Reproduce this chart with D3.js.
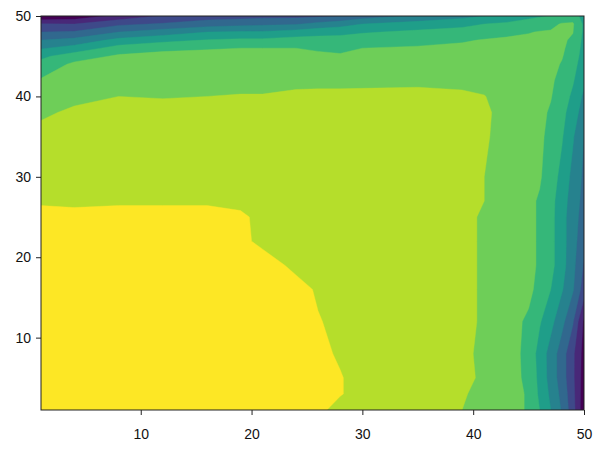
<!DOCTYPE html>
<html><head><meta charset="utf-8">
<script src="https://cdn.jsdelivr.net/npm/d3@7"></script>
<style>html,body{margin:0;padding:0;background:#fff;} svg{display:block;}</style>
</head><body>
<svg id="chart" width="600" height="450"></svg>
<script>
// Grid node positions (data coordinates) along x and y
const xNodes = [1, 4, 8, 12, 16, 19, 21, 24, 26, 28, 30, 35, 39, 41, 43, 45, 46, 47, 48, 49, 50];
const yNodes = [1, 3, 5, 8, 12, 16, 19, 22, 25, 27, 30, 35, 38, 40, 42, 44, 45, 46, 47, 48, 49, 50];
// Field values, one row per yNodes entry (bottom to top), one column per xNodes entry
const zRows = [
  [96,96,96,96,96,96,96,96,92,87,86,84,80,77,74,69,60,50,39,24,3],
  [96,96,96,96,96,96,96,96,94,90.5,87,84,81,77,74,69,58,48,37,23,4],
  [96,96,96,96,96,96,96,96,93,90.5,87,84,81.5,79,74,68,57,46,35,22,5],
  [96,96,96,96,96,96,96,96,92,89,87,84,81.5,78.5,75,67,56,46,35,22,6],
  [96,96,96,96,96,96,96,94,90.5,88,87,84,82,79,75,68,61,53,43,31,8],
  [96,96,96,96,96,96,96,93,89,87,86,84,82,79,76,73,66,60,51,41,25],
  [96,96,96,96,96,96,94,88,87,86,86,84,82,79,76,72,69,63,54,43,29],
  [96,96,96,96,96,92,88,86,86,86,85,84,82,79,76,72,69,63,54,44,33],
  [95,95,95,95,95,92,87,86,86,86,85,84,82,79,76,72,69,63,54,44,36],
  [88,86.5,88,88,88,87,86,86,86,85,85,84,82,80,76,72,69,63,55,45,37],
  [85,85,85,85,85,85,85,85,85,85,85,85,83,80,77,73,71,65,57,47,38],
  [82,84,85,85,85,85,85,85,85,85,85,85,83,81,77,74,72,67,61,51,40],
  [79,81,83,83,83,83,83,84,84,84,84,84,83,81.5,77,74,72,69,63,55,45],
  [75,78.5,80,79.5,80,80.5,80.5,81.5,81.8,81.8,82,82,81,80.2,77.5,74.5,72.5,70.5,65,58,48],
  [71,76,77,77,77,77,77,78,78,78,78,78.5,78.5,78,77,74,73,71.5,67,61,52],
  [63,72,74,74,74,74,74,74,73.5,73,74,75,75.5,76,75.5,74,73,72,69.5,64,54],
  [58,65,71.5,72,72,72,72,72,71.5,71,72,73,74,74.5,74,73.5,73,72,70.5,66,55],
  [49,54,64,68.5,69.5,70,70,70,69,68,70,71,72,73,73,73,72.5,72,71,67.5,56],
  [40,43,53,57,60.5,62,62,64,64,64,65.5,67,69,70.5,71.5,72,72,71.5,71,69,57],
  [30,31,40,45,50,51,51,54,56,57,59,62,64,66,67.5,69.5,70.5,71,71,70.2,58],
  [21,20,28,31,35,37,38,39,43,46,50,54,57,60,62,65,66,67,71,71,58],
  [0,3,13,21,25,26,27,27,28,30,35,42,47,50,52,57,59,60.5,62,66,55]
];
const levels = [0, 10, 20, 30, 40, 50, 60, 70, 80, 90];
const bandColors = ["#440154","#482878","#3e4989","#31688e","#26828e","#1f9e89","#35b779","#6ece58","#b5de2b","#fde725"];
const xTicks = [10, 20, 30, 40, 50];
const yTicks = [10, 20, 30, 40, 50];

const svg = d3.select("#chart");
const x = d3.scaleLinear().domain([1, 50]).range([41, 584]);
const y = d3.scaleLinear().domain([1, 50]).range([410, 16]);

const nx = xNodes.length, ny = yNodes.length;
const values = zRows.flat();
const bands = d3.contours().size([nx, ny]).thresholds(levels)(values);

const idxX = d3.scaleLinear().domain(d3.range(nx)).range(xNodes).clamp(true);
const idxY = d3.scaleLinear().domain(d3.range(ny)).range(yNodes).clamp(true);
const proj = d3.geoTransform({
  point(px, py) { this.stream.point(x(idxX(px - 0.5)), y(idxY(py - 0.5))); }
});
const path = d3.geoPath(proj);

svg.append("defs").append("clipPath").attr("id", "plotclip")
  .append("rect").attr("x", x(1)).attr("y", y(50))
  .attr("width", x(50) - x(1)).attr("height", y(1) - y(50));

svg.append("g").attr("clip-path", "url(#plotclip)")
  .selectAll("path").data(bands).join("path")
  .attr("d", path)
  .attr("fill", (d, i) => bandColors[i])
  .attr("stroke", (d, i) => bandColors[i])
  .attr("stroke-width", 0.4);

const font = "'Liberation Sans', Arial, sans-serif";
const xAxis = svg.append("g").attr("transform", `translate(0,${y(1)})`)
  .call(d3.axisBottom(x).tickValues(xTicks).tickSize(5).tickPadding(14).tickFormat(d3.format("d")));
const yAxis = svg.append("g").attr("transform", `translate(${x(1)},0)`)
  .call(d3.axisLeft(y).tickValues(yTicks).tickSize(5).tickPadding(5).tickFormat(d3.format("d")));
[xAxis, yAxis].forEach(g => {
  g.select(".domain").remove();
  g.selectAll(".tick line").attr("stroke", "#222").attr("stroke-width", 1);
  g.selectAll(".tick text").attr("fill", "#111").style("font-family", font).style("font-size", "14px");
});

svg.append("rect").attr("x", x(1)).attr("y", y(50))
  .attr("width", x(50) - x(1)).attr("height", y(1) - y(50))
  .attr("fill", "none").attr("stroke", "#222").attr("stroke-width", 1);
</script>
</body></html>
